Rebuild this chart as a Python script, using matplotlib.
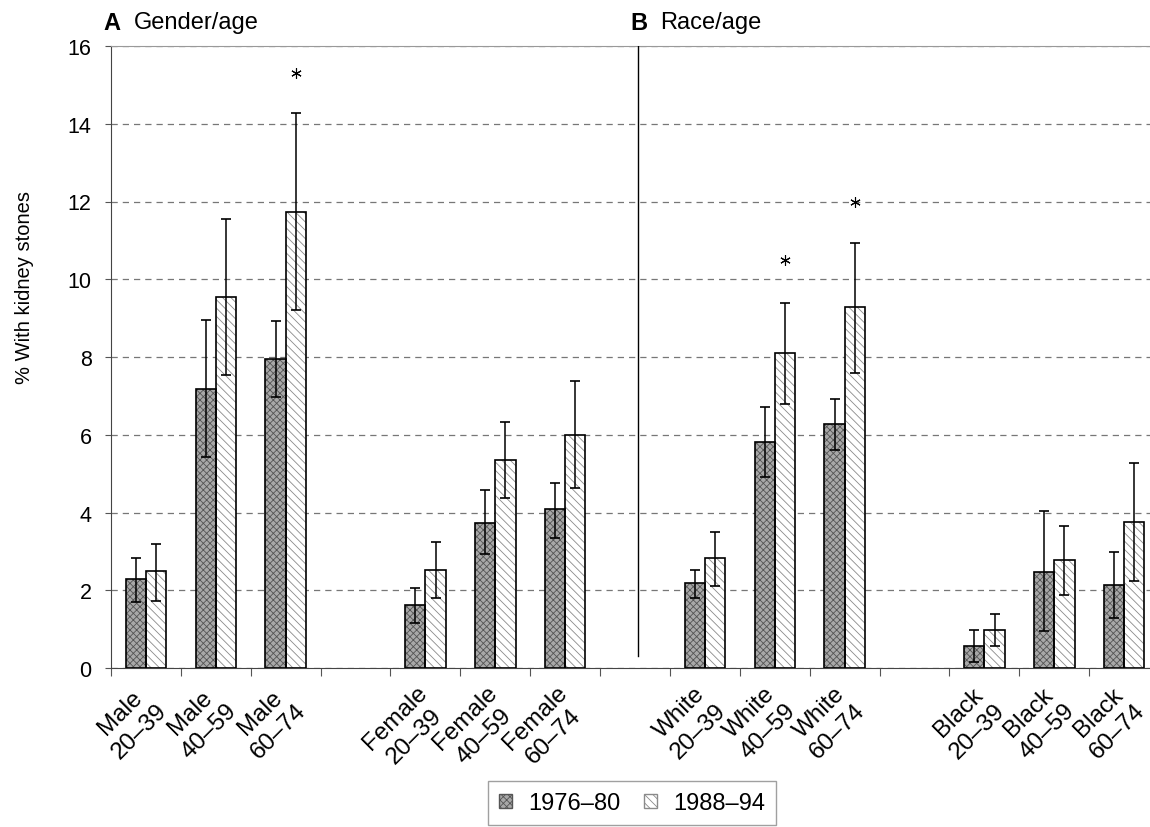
import numpy as np
import matplotlib.pyplot as plt
from matplotlib.patches import Patch

plt.rcParams['font.family'] = ['Liberation Sans', 'DejaVu Sans']
plt.rcParams['hatch.linewidth'] = 0.6

# data
groups = ["Male\n20–39", "Male\n40–59", "Male\n60–74",
          "Female\n20–39", "Female\n40–59", "Female\n60–74",
          "White\n20–39", "White\n40–59", "White\n60–74",
          "Black\n20–39", "Black\n40–59", "Black\n60–74"]
slots = [0, 1, 2, 4, 5, 6, 8, 9, 10, 12, 13, 14]

early = [2.30, 7.18, 7.94, 1.62, 3.74, 4.08, 2.18, 5.81, 6.27, 0.57, 2.48, 2.13]
early_lo = [1.70, 5.42, 6.96, 1.17, 2.92, 3.35, 1.80, 4.92, 5.60, 0.15, 0.95, 1.29]
early_hi = [2.84, 8.95, 8.93, 2.07, 4.58, 4.76, 2.52, 6.71, 6.92, 0.98, 4.03, 2.98]

late = [2.49, 9.55, 11.74, 2.53, 5.34, 6.00, 2.82, 8.11, 9.29, 0.98, 2.77, 3.75]
late_lo = [1.72, 7.54, 9.20, 1.81, 4.38, 4.62, 2.12, 6.80, 7.60, 0.57, 1.88, 2.25]
late_hi = [3.20, 11.54, 14.27, 3.24, 6.32, 7.39, 3.50, 9.40, 10.94, 1.39, 3.65, 5.27]

star_idx = [2, 7, 8]
star_y = [15.3, 10.5, 12.0]

series = ["1976–80", "1988–94"]

fig = plt.figure(figsize=(11.5, 8.28), dpi=100)
ax = fig.add_axes([111 / 1150, 1 - 669 / 828, (1150 - 111) / 1150, 622 / 828])

x = np.array(slots, dtype=float)
w = 0.29
early = np.array(early); late = np.array(late)

# hatched fills, then black outlines
ax.bar(x - w / 2, early, w, color='#a8a8a8', hatch='xxxxx', edgecolor='#555555', linewidth=0, zorder=2)
ax.bar(x - w / 2, early, w, fill=False, edgecolor='black', linewidth=1.2, zorder=3)
ax.bar(x + w / 2, late, w, color='white', hatch='\\\\\\\\', edgecolor='#8a8a8a', linewidth=0, zorder=2)
ax.bar(x + w / 2, late, w, fill=False, edgecolor='black', linewidth=1.2, zorder=3)

ax.errorbar(x - w / 2, early, yerr=[early - np.array(early_lo), np.array(early_hi) - early],
            fmt='none', ecolor='black', elinewidth=1.1, capsize=3.8, capthick=1.2, zorder=4)
ax.errorbar(x + w / 2, late, yerr=[late - np.array(late_lo), np.array(late_hi) - late],
            fmt='none', ecolor='black', elinewidth=1.1, capsize=3.8, capthick=1.2, zorder=4)

# significance asterisks
ax.plot([x[i] + w / 2 for i in star_idx], star_y, linestyle='none',
        marker=(6, 2, 0), markersize=7.5, markeredgewidth=0.8, color='black', zorder=5)

# divider between panels
ax.plot([7.04, 7.04], [0.3, 16], color='black', lw=1.0, zorder=4)

ax.set_xlim(-0.5, 14.37)
ax.set_ylim(0, 16)
ax.set_yticks(np.arange(0, 17, 2))
ax.tick_params(axis='y', labelsize=15.5, length=4, pad=10, color='#555555')
ax.set_xticks(np.arange(-0.5, 14.4, 1))
ax.set_xticklabels([])
ax.tick_params(axis='x', length=6, color='#555555')

ax.yaxis.grid(True, linestyle=(0, (5, 4)), color='#777777', lw=0.9)
ax.set_axisbelow(True)
ax.spines['right'].set_visible(False)
ax.spines['top'].set_color('#999999')
ax.spines['top'].set_linewidth(0.8)
ax.spines['left'].set_color('#444444')
ax.spines['bottom'].set_color('#444444')

for p, g in zip(slots, groups):
    ax.annotate(g, xy=(p, 0), xycoords='data', xytext=(18, -9), textcoords='offset points',
                rotation=45, ha='right', va='top', multialignment='center',
                fontsize=17.5, linespacing=1.25, annotation_clip=False)

fig.text(25 / 1150, 1 - 287 / 828, "% With kidney stones", rotation=90,
         ha='center', va='center', fontsize=14.5)

fig.text(103 / 1150, 1 - 23 / 828, "A", fontsize=17, weight='bold', va='center')
fig.text(134 / 1150, 1 - 23 / 828, "Gender/age", fontsize=17, va='center')
fig.text(630 / 1150, 1 - 23 / 828, "B", fontsize=17, weight='bold', va='center')
fig.text(660 / 1150, 1 - 23 / 828, "Race/age", fontsize=17, va='center')

handles = [Patch(facecolor='#a8a8a8', hatch='xxxxx', edgecolor='#555555'),
           Patch(facecolor='white', hatch='\\\\\\\\', edgecolor='#8a8a8a')]
fig.legend(handles, series, loc='lower center', bbox_to_anchor=(632 / 1150, 0),
           ncol=2, fontsize=17, frameon=True, fancybox=False, edgecolor='#888888',
           handlelength=0.55, handleheight=0.55, handletextpad=0.7, columnspacing=1.0,
           borderpad=0.45, borderaxespad=0.1)

fig.savefig("out.png", dpi=100)
